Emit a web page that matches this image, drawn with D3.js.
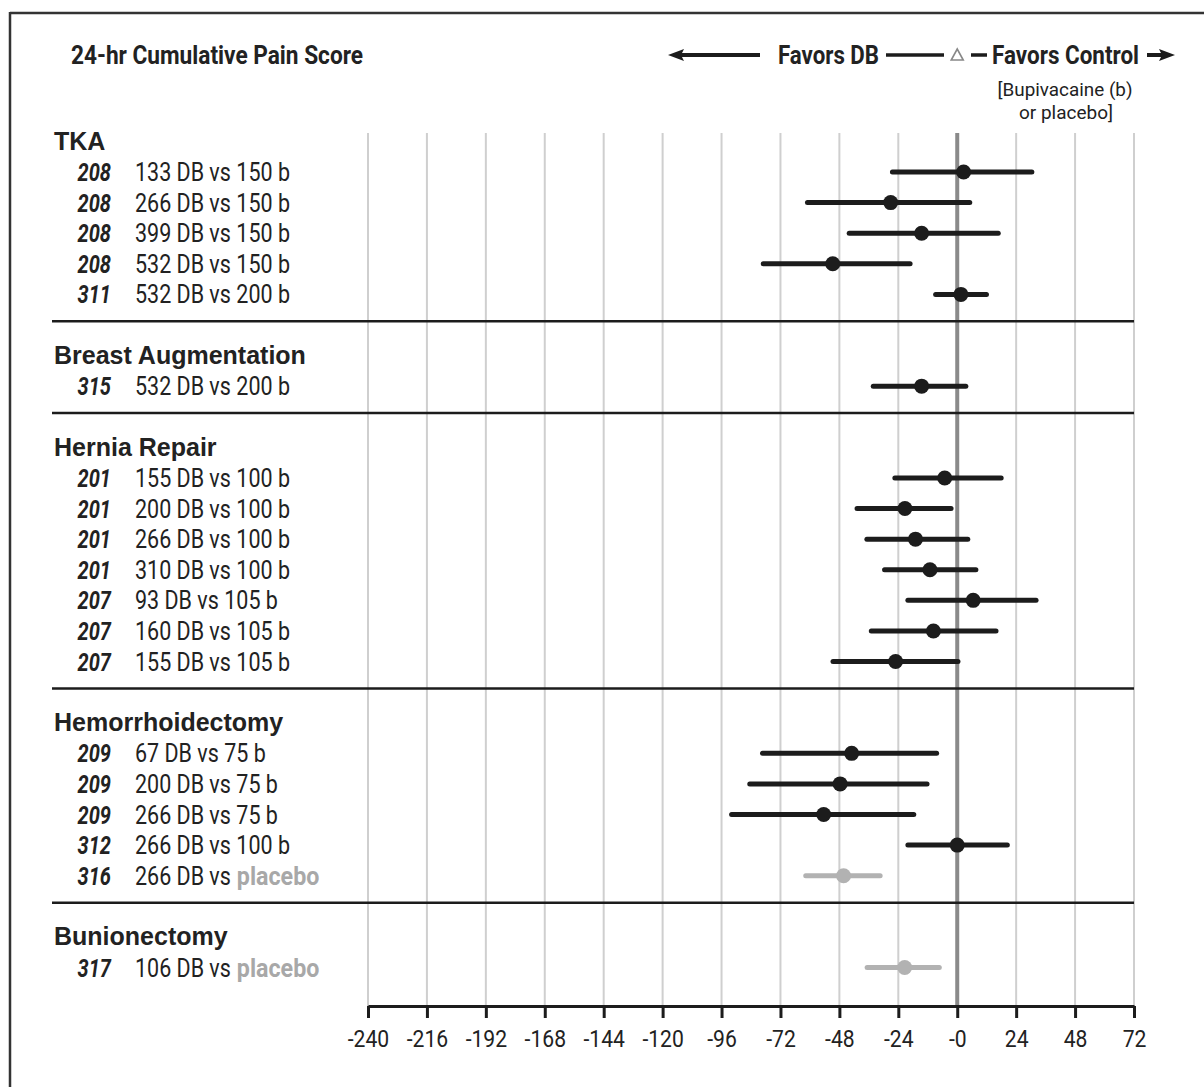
<!DOCTYPE html>
<html>
<head>
<meta charset="utf-8">
<script src="https://cdn.jsdelivr.net/npm/d3@7"></script>
<style>
  body { margin: 0; background: #fff; }
  svg text { fill: #222; }
  .narrow { font-family: Roboto, "Liberation Sans", sans-serif; }
  .wide { font-family: "Liberation Sans", Arial, sans-serif; font-weight: bold; }
</style>
</head>
<body>
<svg id="forest" width="1204" height="1087"></svg>
<script>
// chart values
const sections = ["TKA", "Breast Augmentation", "Hernia Repair", "Hemorrhoidectomy", "Bunionectomy"];
const rowSection = [0, 0, 0, 0, 0, 1, 2, 2, 2, 2, 2, 2, 2, 3, 3, 3, 3, 3, 4];
const studies = ["208", "208", "208", "208", "311", "315", "201", "201", "201", "201", "207", "207", "207", "209", "209", "209", "312", "316", "317"];
const doses = ["133", "266", "399", "532", "532", "532", "155", "200", "266", "310", "93", "160", "155", "67", "200", "266", "266", "266", "106"];
const controls = ["150 b", "150 b", "150 b", "150 b", "200 b", "200 b", "100 b", "100 b", "100 b", "100 b", "105 b", "105 b", "105 b", "75 b", "75 b", "75 b", "100 b", "placebo", "placebo"];
const estimates = [2.6, -27.1, -14.5, -50.7, 1.5, -14.5, -5.1, -21.3, -17.0, -11.1, 6.5, -9.7, -25.1, -43.0, -47.7, -54.4, 0, -46.3, -21.4];
const lower = [-26.4, -61, -44, -79, -8.8, -34.2, -25.4, -40.8, -36.8, -29.6, -20.1, -35.0, -50.6, -79.3, -84.5, -91.9, -20.1, -61.7, -36.7];
const upper = [30.4, 5.1, 16.7, -19.2, 11.9, 3.5, 17.9, -2.5, 4.3, 7.6, 32.1, 15.8, 0.3, -8.4, -12.3, -17.7, 20.4, -31.4, -7.3];
const xTicks = [-240, -216, -192, -168, -144, -120, -96, -72, -48, -24, 0, 24, 48, 72];

const svg = d3.select("#forest");
const black = "#1c1c1c";
const gray = "#b2b2b2";

// no condensed face installed, so squeeze glyphs horizontally
function condense(sel, k) {
  sel.each(function () {
    const w = this.getComputedTextLength();
    d3.select(this).attr("textLength", w * k).attr("lengthAdjust", "spacingAndGlyphs");
  });
}
function fitTo(sel, w) {
  sel.attr("textLength", w).attr("lengthAdjust", "spacingAndGlyphs");
}

// slot index: each section gets a title slot and a separator gap
let slots = [];
let slot = 0;
rowSection.forEach((s, i) => {
  if (i > 0 && s !== rowSection[i - 1]) slot += 3;
  slots.push(slot);
  if (i < rowSection.length - 1 && rowSection[i + 1] === s) slot += 1;
});

const x = d3.scaleLinear().domain([-240, 72]).range([368, 1134]);
const y = d3.scaleLinear().domain([0, slots[slots.length - 1]]).range([172, 967.5]);
const gridTop = 133;
const axisY = 1006;

// frame (top and left only, as cropped)
svg.append("line").attr("x1", 10).attr("x2", 1204).attr("y1", 13).attr("y2", 13)
  .attr("stroke", "#333").attr("stroke-width", 2.5);
svg.append("line").attr("x1", 10).attr("x2", 10).attr("y1", 12).attr("y2", 1087)
  .attr("stroke", "#333").attr("stroke-width", 2.5);

// gridlines
svg.append("g").selectAll("line").data(xTicks.filter(d => d !== 0))
  .enter().append("line")
  .attr("x1", d => x(d)).attr("x2", d => x(d))
  .attr("y1", gridTop).attr("y2", axisY)
  .attr("stroke", "#cfcfcf").attr("stroke-width", 2);

svg.append("line")
  .attr("x1", x(0)).attr("x2", x(0)).attr("y1", gridTop).attr("y2", axisY)
  .attr("stroke", "#8a8a8a").attr("stroke-width", 4);

// section separators and titles
const sectionIdx = sections.map((s, k) => rowSection.map((r, i) => r === k ? i : -1).filter(i => i >= 0));

svg.append("g").selectAll("line").data(sectionIdx.slice(0, -1))
  .enter().append("line")
  .attr("x1", 52).attr("x2", x(72))
  .attr("y1", d => y(slots[d[d.length - 1]] + 0.88))
  .attr("y2", d => y(slots[d[d.length - 1]] + 0.88))
  .attr("stroke", black).attr("stroke-width", 2.5);

svg.append("g").selectAll("text").data(sections)
  .enter().append("text")
  .attr("class", "wide")
  .attr("x", 54)
  .attr("y", (d, k) => y(slots[sectionIdx[k][0]] - 0.72))
  .style("font-size", "25px")
  .text(d => d);

// row labels
const rows = svg.append("g").selectAll("g").data(estimates)
  .enter().append("g")
  .attr("transform", (d, i) => "translate(0," + y(slots[i]) + ")");

rows.append("text")
  .attr("class", "narrow")
  .attr("x", 111).attr("dy", "0.36em")
  .attr("text-anchor", "end")
  .style("font-size", "25px").style("font-weight", "bold").style("font-style", "italic")
  .text((d, i) => studies[i])
  .call(condense, 0.8);

// dose part, then the control part, both in a horizontally squeezed group
rows.each(function (d, i) {
  const g = d3.select(this).append("g").attr("transform", "translate(135,0) scale(0.86,1)");
  const first = g.append("text")
    .attr("class", "narrow")
    .attr("x", 0).attr("dy", "0.36em")
    .style("font-size", "25px")
    .text(doses[i] + " DB vs");
  const w = first.node().getComputedTextLength();
  const isPlacebo = controls[i] === "placebo";
  const second = g.append("text")
    .attr("class", "narrow")
    .attr("x", w + (isPlacebo ? 7 : 6.4)).attr("dy", "0.36em")
    .style("font-size", "25px")
    .style("fill", isPlacebo ? "#a8a8a8" : "#222")
    .style("font-weight", isPlacebo ? "bold" : "normal")
    .text(controls[i]);
  if (isPlacebo) second.call(condense, 0.93 / 0.86);
});

// confidence intervals and estimates
rows.append("line")
  .attr("x1", (d, i) => x(lower[i])).attr("x2", (d, i) => x(upper[i]))
  .attr("stroke", (d, i) => controls[i] === "placebo" ? gray : black)
  .attr("stroke-width", 5).attr("stroke-linecap", "round");

rows.append("circle")
  .attr("cx", d => x(d)).attr("r", 7.5)
  .attr("fill", (d, i) => controls[i] === "placebo" ? gray : black);

// axis
const axis = svg.append("g")
  .attr("transform", "translate(0," + axisY + ")")
  .call(d3.axisBottom(x).tickValues(xTicks).tickSize(12).tickSizeOuter(0).tickPadding(12)
    .tickFormat(d => d === 0 ? "-0" : d));
axis.select(".domain").attr("stroke", black).attr("stroke-width", 3);
axis.selectAll(".tick line").attr("stroke", black).attr("stroke-width", 3);
axis.selectAll(".tick text").attr("class", "narrow").style("font-size", "24px").style("fill", "#222")
  .call(condense, 0.88);

// header
svg.append("text").attr("class", "narrow")
  .attr("x", 71).attr("y", 64)
  .style("font-size", "25px").style("font-weight", "bold")
  .text("24-hr Cumulative Pain Score")
  .call(fitTo, 292);

const head = svg.append("g");
const legendY = 55;
head.append("line").attr("x1", 678).attr("x2", 760).attr("y1", legendY).attr("y2", legendY)
  .attr("stroke", black).attr("stroke-width", 4);
head.append("path").attr("d", "M668," + legendY + " l16,-6 l-3,6 l3,6 z").attr("fill", black);
head.append("text").attr("class", "narrow")
  .attr("x", 778).attr("y", 64)
  .style("font-size", "25px").style("font-weight", "bold")
  .text("Favors DB")
  .call(fitTo, 101);
head.append("line").attr("x1", 886).attr("x2", 944).attr("y1", legendY).attr("y2", legendY)
  .attr("stroke", black).attr("stroke-width", 3.5);
head.append("path")
  .attr("d", "M" + (x(0) - 6) + "," + (legendY + 5) + " h12 l-6,-11 z")
  .attr("fill", "none").attr("stroke", "#888").attr("stroke-width", 1.6);
head.append("line").attr("x1", 971).attr("x2", 987).attr("y1", legendY).attr("y2", legendY)
  .attr("stroke", black).attr("stroke-width", 3.5);
head.append("text").attr("class", "narrow")
  .attr("x", 992).attr("y", 64)
  .style("font-size", "25px").style("font-weight", "bold")
  .text("Favors Control")
  .call(fitTo, 147);
head.append("line").attr("x1", 1147).attr("x2", 1164).attr("y1", legendY).attr("y2", legendY)
  .attr("stroke", black).attr("stroke-width", 4);
head.append("path").attr("d", "M1175," + legendY + " l-16,-6 l3,6 l-3,6 z").attr("fill", black);

head.append("text").attr("class", "narrow")
  .attr("x", 1065).attr("y", 96).attr("text-anchor", "middle")
  .style("font-size", "19px")
  .text("[Bupivacaine (b)")
  .call(fitTo, 135);
head.append("text").attr("class", "narrow")
  .attr("x", 1066).attr("y", 119).attr("text-anchor", "middle")
  .style("font-size", "19px")
  .text("or placebo]")
  .call(fitTo, 94);
</script>
</body>
</html>
